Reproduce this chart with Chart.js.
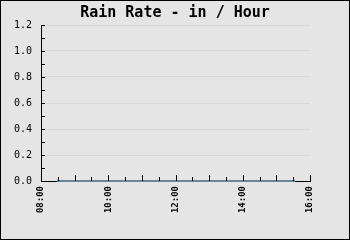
<!DOCTYPE html>
<html>
<head>
<meta charset="utf-8">
<script src="https://cdn.jsdelivr.net/npm/chart.js@4"></script>
<style>
  html, body { margin: 0; padding: 0; background: #e5e5e5; }
  #wrap { width: 350px; height: 240px; }
</style>
</head>
<body>
<div id="wrap"><canvas id="rain_rate"></canvas></div>
<script>
(function () {
    "use strict";

    // readings, time in decimal hours
    const times = [8.48, 9.0, 9.5, 10.0, 10.5, 11.0, 11.5, 12.0, 12.5, 13.0, 13.5, 14.0, 14.5, 15.0, 15.56];
    const rainRate = [0, 0, 0, 0, 0, 0, 0, 0, 0, 0, 0, 0, 0, 0, 0];
    const xTicks = ["08:00", "10:00", "12:00", "14:00", "16:00"];
    const yTicks = [0.0, 0.2, 0.4, 0.6, 0.8, 1.0, 1.2];

    const monoFont = "'DejaVu Sans Mono', monospace";

    // gray background + black frame
    const frame = {
        id: 'frame',
        beforeDraw(chart) {
            const c = chart.ctx;
            c.save();
            c.fillStyle = '#e5e5e5';
            c.fillRect(0, 0, chart.width, chart.height);
            c.strokeStyle = '#000';
            c.lineWidth = 1;
            c.strokeRect(0.5, 0.5, chart.width - 1, chart.height - 1);
            c.restore();
        },
        // inward tick marks
        afterDatasetsDraw(chart) {
            const c = chart.ctx;
            const x = chart.scales.x, y = chart.scales.y;
            const area = chart.chartArea;
            c.save();
            c.strokeStyle = '#000';
            c.lineWidth = 1;
            c.beginPath();
            for (let v = 0; v <= 12; v++) {
                const py = Math.round(y.getPixelForValue(v / 10)) + 0.5;
                c.moveTo(area.left, py);
                c.lineTo(area.left + 4, py);
            }
            for (let h = 16; h <= 32; h++) {
                const px = Math.round(x.getPixelForValue(h / 2)) + 0.5;
                const len = h % 2 === 0 ? 6 : 4;
                c.moveTo(px, area.bottom);
                c.lineTo(px, area.bottom - len);
            }
            c.stroke();
            c.restore();
        }
    };

    const ctx = document.getElementById("rain_rate").getContext('2d');

    new Chart(ctx, {
        type: 'line',
        data: {
            datasets: [{
                data: times.map((t, i) => ({ x: t, y: rainRate[i] })),
                borderColor: '#6a8796',
                borderWidth: 2,
                pointRadius: 0,
                tension: 0,
                clip: false
            }]
        },
        options: {
            responsive: true,
            maintainAspectRatio: false,
            animation: false,
            layout: { padding: 0 },
            plugins: {
                legend: { display: false },
                tooltip: { enabled: false },
                title: {
                    display: true,
                    text: 'Rain Rate - in / Hour',
                    color: '#000',
                    font: { family: monoFont, size: 15, weight: 'bold', lineHeight: 1.2 },
                    padding: { top: 4, bottom: 3 }
                }
            },
            scales: {
                x: {
                    type: 'linear',
                    min: 8,
                    max: 16,
                    afterFit(scale) { scale.height = 59; },
                    afterBuildTicks(scale) {
                        scale.ticks = xTicks.map(s => ({ value: parseInt(s, 10) }));
                    },
                    border: { color: '#000', width: 1 },
                    grid: { display: false, drawTicks: false },
                    ticks: {
                        color: '#000',
                        minRotation: 90,
                        maxRotation: 90,
                        padding: 5,
                        font: { family: monoFont, size: 9, weight: 'bold' },
                        callback: v => xTicks.find(s => parseInt(s, 10) === v)
                    }
                },
                y: {
                    min: 0,
                    max: 1.2,
                    afterFit(scale) { scale.width = 41; },
                    afterBuildTicks(scale) {
                        scale.ticks = yTicks.map(v => ({ value: v }));
                    },
                    border: { color: '#000', width: 1 },
                    grid: { color: '#d8d8d8', drawTicks: false },
                    ticks: {
                        color: '#000',
                        padding: 9,
                        font: { family: monoFont, size: 10 },
                        callback: v => v.toFixed(1)
                    }
                },
                // empty right gutter so the title stays centred on the canvas
                gutter: {
                    type: 'linear',
                    position: 'right',
                    afterFit(scale) { scale.width = 40; },
                    border: { display: false },
                    grid: { display: false, drawTicks: false },
                    ticks: { display: false }
                }
            }
        },
        plugins: [frame]
    });
})();
</script>
</body>
</html>
